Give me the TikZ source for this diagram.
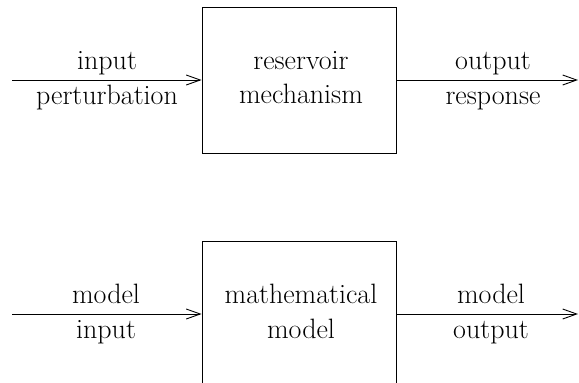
\documentclass[tikz,border=0pt]{standalone}
\usepackage{fontspec}
\usetikzlibrary{arrows.meta}
\begin{document}
\begin{tikzpicture}[x=1pt,y=-1pt,
  lbl/.style={anchor=base,inner sep=0pt,font=\fontsize{28}{33}\selectfont\addfontfeatures{FakeBold=0.6}},
  blk/.style={draw,line width=0.9pt,minimum width=194pt,minimum height=146pt,inner sep=0pt},
  flow/.style={line width=0.9pt,-{Straight Barb[length=14pt,width=10pt,line width=0.9pt]}}]
\useasboundingbox (0,0) rectangle (579,383);
\clip (0,0) rectangle (579,383);
% top row
\node[blk] (box1) at (299,80) {};
\coordinate (in1) at (12,80);
\coordinate (out1) at (578,80);
\draw[flow] (in1) -- (box1.west);
\draw[flow] (box1.east) -- (out1);
\node[lbl] (t1a) at (107,69) {input};
\node[lbl] (t1b) at (107,104) {perturbation};
\node[lbl] (t1c) at (301,69) {reservoir};
\node[lbl] (t1d) at (301,103) {mechanism};
\node[lbl] (t1e) at (493,69) {output};
\node[lbl] (t1f) at (493,104) {response};
% bottom row
\node[blk] (box2) at (299,314) {};
\coordinate (in2) at (12,314);
\coordinate (out2) at (578,314);
\draw[flow] (in2) -- (box2.west);
\draw[flow] (box2.east) -- (out2);
\node[lbl] (t2a) at (106,303) {model};
\node[lbl] (t2b) at (106,338) {input};
\node[lbl] (t2c) at (301,303) {mathematical};
\node[lbl] (t2d) at (301,338) {model};
\node[lbl] (t2e) at (491,303) {model};
\node[lbl] (t2f) at (491,338) {output};
\end{tikzpicture}
\end{document}
